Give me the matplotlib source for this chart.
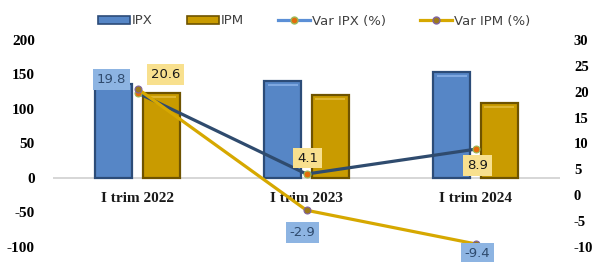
import matplotlib
matplotlib.use("Agg")
import matplotlib.pyplot as plt
from matplotlib.patches import Patch
from matplotlib.lines import Line2D
import numpy as np

categories = ["I trim 2022", "I trim 2023", "I trim 2024"]
ipx = [136, 140, 153]
ipm = [123, 120, 108]
var_ipx = [19.8, 4.1, 8.9]
var_ipm = [20.6, -2.9, -9.4]

# colours
c_ipx = "#5686C6"
c_ipx_edge = "#2C4C78"
c_ipm = "#C99B00"
c_ipm_edge = "#6E5300"
c_line_ipx = "#2F4B6E"
c_line_ipm = "#D6A800"
box_blue = "#8DB4E2"
box_yellow = "#F8E08E"

serif = "Liberation Serif"
plt.rcParams["axes.unicode_minus"] = False

fig = plt.figure(figsize=(5.95, 2.62), dpi=100)
ax = fig.add_axes([53 / 595, 1 - 247 / 262, (560 - 53) / 595, (247 - 40) / 262])
ax2 = ax.twinx()

x = np.arange(len(categories))
w = 0.22
ax.bar(x - 0.14, ipx, w, color=c_ipx, edgecolor=c_ipx_edge, linewidth=1.6, zorder=2)
ax.bar(x + 0.14, ipm, w, color=c_ipm, edgecolor=c_ipm_edge, linewidth=1.6, zorder=2)
# light highlight on the bar tops
ax.bar(x - 0.14, [3] * 3, w * 0.8, bottom=np.array(ipx) - 7, color="#7FA8E0", linewidth=0, zorder=3)
ax.bar(x + 0.14, [3] * 3, w * 0.8, bottom=np.array(ipm) - 7, color="#DDB530", linewidth=0, zorder=3)

ax.set_xlim(-0.5, 2.5)
ax.set_ylim(-100, 200)
ax.set_yticks(np.arange(-100, 201, 50))
ax.axhline(0, color="#D0D0D0", linewidth=1.2, zorder=1)
for s in ax.spines.values():
    s.set_visible(False)
for s in ax2.spines.values():
    s.set_visible(False)
ax.set_xticks([])
for xi, lab in zip(x, categories):
    ax.text(xi, -29, lab, ha="center", va="center", fontsize=11, fontweight="bold",
            family=serif, color="#1a1a1a")
ax.tick_params(axis="y", length=0, pad=13)
for t in ax.get_yticklabels():
    t.set_fontfamily(serif)
    t.set_fontweight("bold")
    t.set_fontsize(11)

ax2.set_ylim(-10, 30)
ax2.set_yticks(np.arange(-10, 31, 5))
ax2.tick_params(axis="y", length=0, pad=10)
for t in ax2.get_yticklabels():
    t.set_fontfamily(serif)
    t.set_fontweight("bold")
    t.set_fontsize(10.5)

ax2.plot(x, var_ipx, color=c_line_ipx, linewidth=2.3, marker="o", markersize=5,
         markerfacecolor="#E46C0A", markeredgecolor="#9BBB59", markeredgewidth=0.8, zorder=4)
ax2.plot(x, var_ipm, color=c_line_ipm, linewidth=2.3, marker="o", markersize=5,
         markerfacecolor="#9C7A1A", markeredgecolor="#8064A2", markeredgewidth=0.8, zorder=4)

# data labels (pixel offsets from the point, box colour)
lab_ipx = [(-26, 13, box_blue, "#2F4B6E"), (1, 16, box_yellow, "#1a1a1a"), (2, -16, box_yellow, "#1a1a1a")]
lab_ipm = [(28, 14, box_yellow, "#1a1a1a"), (-4, -22, box_blue, "#2F4B6E"), (2, -10, box_blue, "#2F4B6E")]
for vals, labs in ((var_ipx, lab_ipx), (var_ipm, lab_ipm)):
    for xi, v, (dx, dy, bc, tc) in zip(x, vals, labs):
        ax2.annotate(f"{v:.1f}", (xi, v), xytext=(dx, dy), textcoords="offset pixels",
                     ha="center", va="center", fontsize=9.5, color=tc,
                     bbox=dict(boxstyle="square,pad=0.3", facecolor=bc, edgecolor="none"),
                     zorder=6, annotation_clip=False)

handles = [
    Patch(facecolor=c_ipx, edgecolor=c_ipx_edge, linewidth=1.2),
    Patch(facecolor=c_ipm, edgecolor=c_ipm_edge, linewidth=1.2),
    Line2D([], [], color="#5B8FD6", linewidth=2.3, marker="o", markersize=5,
           markerfacecolor="#E46C0A", markeredgecolor="#9BBB59"),
    Line2D([], [], color=c_line_ipm, linewidth=2.3, marker="o", markersize=5,
           markerfacecolor="#9C7A1A", markeredgecolor="#8064A2"),
]
fig.legend(handles, ["IPX", "IPM", "Var IPX (%)", "Var IPM (%)"], ncol=4,
           loc="center", bbox_to_anchor=(314 / 595, 1 - 21 / 262), frameon=False,
           fontsize=9.5, handlelength=2.4, handleheight=0.6, columnspacing=2.6,
           handletextpad=0.15, labelcolor="#404040")

fig.savefig("out.png", dpi=100)
